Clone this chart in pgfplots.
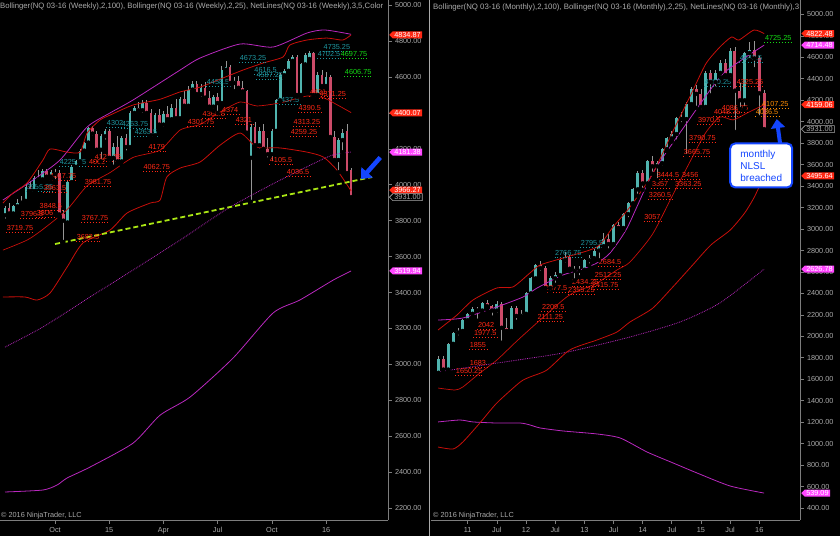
\documentclass[border=0pt]{standalone}
\usepackage{fontspec}
\setmainfont{Liberation Sans}
\setsansfont{Liberation Sans}
\usepackage{graphicx}
\usepackage{pgfplots}
\pgfplotsset{compat=1.18}
\usepackage{pgfplotstable}
\usetikzlibrary{arrows.meta,shapes.symbols}

\definecolor{axgray}{RGB}{125,125,125}
\definecolor{labgray}{RGB}{170,170,170}
\definecolor{bbpurple}{RGB}{185,40,190}
\definecolor{bbred}{RGB}{200,15,10}
\definecolor{upc}{RGB}{80,180,175}
\definecolor{dnc}{RGB}{205,75,105}
\definecolor{wickc}{RGB}{150,150,150}
\definecolor{nlred}{RGB}{255,40,20}
\definecolor{nlteal}{RGB}{30,150,160}
\definecolor{nlgreen}{RGB}{20,220,20}
\definecolor{nlorange}{RGB}{255,140,0}
\definecolor{tagred}{RGB}{255,40,20}
\definecolor{tagmag}{RGB}{255,70,255}
\definecolor{trend}{RGB}{170,230,20}
\definecolor{arrowblue}{RGB}{20,70,255}

\newcommand{\sm}{\fontsize{7.3}{8.5}\selectfont}

\tikzset{
  nl/.style={font=\sm, text=#1, inner xsep=0.4pt, inner ysep=1.4pt,
    append after command={(\tikzlastnode.south west) edge[draw=#1, dotted, line width=0.9pt] (\tikzlastnode.south east)}},
  tag/.style={signal, signal to=west, signal pointer angle=90, fill=#1, text=white,
    font=\sm, inner xsep=1.5pt, inner ysep=0.9pt, anchor=west, xshift=1pt},
  tagblk/.style={signal, signal to=west, signal pointer angle=90, fill=black, draw=labgray, line width=0.6pt, text=labgray,
    font=\sm, inner xsep=1.5pt, inner ysep=0.9pt, anchor=west, xshift=1pt}
}

\pgfplotsset{
  nqaxis/.style={
    scale only axis, height=520pt, anchor=south west, clip=false,
    axis x line*=bottom, axis y line*=right,
    xtick pos=left, ytick pos=right, yticklabel pos=right,
    axis line style={draw=axgray, line width=0.7pt},
    every tick/.style={draw=axgray, line width=0.7pt},
    tick align=outside, major tick length=3.5pt,
    ticklabel style={font=\sm, text=labgray},
    yticklabel style={/pgf/number format/.cd, fixed, fixed zerofill, precision=2, 1000 sep={}},
    /pgf/number format/assume math mode=true,
  },
  wick/.style={only marks, mark=none, forget plot, error bars/.cd, y dir=plus, y explicit, error mark=none,
    error bar style={draw=wickc, line width=0.7pt}},
  body/.style 2 args={only marks, mark=none, forget plot, error bars/.cd, y dir=plus, y explicit, error mark=none,
    error bar style={draw=#1, line width=#2}},
}

% ---------- weekly candles ----------
\pgfplotstableread{
x o h l c
-12 3830 3880 3800 3870
-10 3840 3890 3820 3880
-9 3880 3920 3860 3900
-8 3900 3940 3880 3910
-7 3910 4000 3900 3990
-5 3965 4050 3950 4040
-3 4030 4090 4020 4075
-1 4045 4085 4030 4070
3 3790 4025 3780 4015
4 4015 4110 4005 4100
5 4100 4140 4080 4130
6 4130 4200 4120 4190
7 4190 4240 4170 4235
8 4235 4320 4225 4315
11 4195 4280 4130 4270
12 4270 4310 4240 4300
14 4150 4230 4100 4210
16 4130 4270 4110 4260
18 4210 4410 4200 4400
19 4400 4440 4380 4430
21 4415 4470 4390 4455
24 4275 4400 4265 4390
26 4335 4410 4310 4395
28 4365 4450 4355 4425
30 4370 4490 4360 4475
32 4440 4550 4430 4530
33 4530 4580 4510 4560
35 4505 4560 4480 4540
38 4435 4500 4410 4490
40 4455 4660 4445 4640
41 4640 4690 4620 4655
43 4567 4600 4520 4580
47 4150 4340 3905 4320
49 4220 4320 4190 4300
52 4170 4310 4120 4300
53 4300 4480 4290 4470
54 4470 4620 4460 4610
55 4610 4645 4590 4635
56 4635 4700 4620 4690
57 4690 4720 4670 4710
59 4500 4680 4490 4670
60 4670 4735 4650 4720
61 4700 4745 4690 4735
63 4500 4630 4490 4610
65 4550 4630 4540 4600
68 4138 4260 4070 4249
69 4249 4310 4180 4290
}\wup
\pgfplotstableread{
x o h l c
-11 3870 3900 3830 3840
-6 3990 4020 3950 3965
-4 4040 4080 4010 4030
-2 4075 4090 4030 4045
0 4070 4090 4020 4060
1 4065 4080 3820 3835
2 3835 3860 3681 3800
9 4315 4330 4260 4285
10 4285 4300 4180 4195
13 4300 4310 4140 4150
15 4210 4270 4120 4130
17 4260 4280 4180 4210
20 4430 4460 4400 4415
22 4455 4470 4380 4400
23 4400 4420 4260 4275
25 4390 4420 4320 4335
27 4395 4440 4350 4365
29 4425 4480 4350 4370
31 4475 4520 4420 4440
34 4560 4580 4490 4505
36 4540 4570 4470 4485
37 4485 4520 4420 4435
39 4490 4510 4400 4455
42 4655 4665 4560 4567
44 4580 4605 4530 4540
45 4540 4580 4510 4520
46 4520 4530 4280 4290
48 4320 4350 4200 4220
50 4300 4340 4180 4200
51 4200 4260 4140 4170
58 4710 4720 4490 4500
62 4735 4740 4490 4500
64 4610 4640 4540 4550
66 4600 4610 4250 4266
67 4266 4300 4120 4138
70 4300 4340 4050 4065
71 4082 4095 3910 3931
}\wdn

% ---------- monthly candles ----------
\pgfplotstableread{
x o h l c
-6 1660 1820 1630 1790
-4 1690 1940 1680 1930
-3 1930 2040 1920 2035
-2 2035 2080 1990 2050
-1 2050 2160 2040 2150
0 2150 2215 2130 2210
1 2210 2270 2185 2255
3 2240 2320 2220 2310
6 2240 2330 2200 2300
9 2050 2280 2030 2260
11 2190 2250 2160 2210
12 2210 2410 2200 2400
13 2400 2550 2390 2540
14 2540 2675 2520 2665
17 2450 2560 2410 2540
18 2540 2600 2480 2570
19 2570 2720 2560 2710
20 2710 2790 2670 2740
23 2610 2660 2550 2620
24 2620 2720 2610 2710
25 2710 2760 2660 2730
26 2730 2810 2700 2800
27 2800 2850 2710 2840
28 2840 2960 2830 2905
30 2860 3045 2850 3035
32 3010 3150 2990 3140
33 3140 3250 3090 3240
34 3240 3380 3230 3370
35 3370 3545 3310 3525
37 3425 3645 3395 3635
39 3585 3635 3455 3615
40 3615 3755 3575 3745
41 3745 3855 3725 3845
42 3845 3915 3815 3885
43 3885 4045 3815 4035
45 4025 4185 3681 4165
46 4165 4320 4145 4305
49 4138 4475 4130 4455
51 4370 4485 4310 4455
52 4455 4575 4415 4545
54 4435 4690 4395 4655
57 4200 4650 4125 4640
58 4640 4745 4575 4670
}\mup
\pgfplotstableread{
x o h l c
-5 1790 1820 1670 1690
2 2255 2270 2145 2240
4 2310 2340 2250 2280
5 2280 2290 2175 2240
7 2300 2320 1940 2080
8 2080 2175 2020 2050
10 2260 2280 2135 2190
15 2665 2700 2590 2635
16 2635 2655 2420 2450
21 2740 2760 2610 2630
22 2630 2660 2520 2610
29 2905 2950 2800 2860
31 3035 3070 2985 3010
36 3525 3555 3365 3425
38 3635 3685 3515 3585
44 4035 4095 3975 4025
47 4305 4340 4130 4260
48 4260 4310 4100 4138
50 4455 4485 4245 4370
53 4545 4585 4415 4435
55 4655 4700 3905 4290
56 4290 4360 4120 4200
59 4670 4750 4490 4590
60 4590 4610 4040 4266
61 4266 4300 3910 3931
}\mdn

\begin{document}
\begin{tikzpicture}
\fill[black] (0pt,0pt) rectangle (840pt,536pt);

% ================= WEEKLY =================
\begin{axis}[nqaxis, at={(0pt,16pt)}, width=388pt,
  xmin=-13.2, xmax=79.85, ymin=2133, ymax=5029,
  ytick={2200,2400,...,5000},
  xtick={0,13,26,39,52,65}, xticklabels={Oct,15,Apr,Jul,Oct,16}]

\addplot[wick] table[x=x, y=l, y error plus expr=\thisrow{h}-\thisrow{l}] {\wup};
\addplot[wick] table[x=x, y=l, y error plus expr=\thisrow{h}-\thisrow{l}] {\wdn};
\addplot[body={upc}{2.6pt}] table[x=x, y=o, y error plus expr=\thisrow{c}-\thisrow{o}] {\wup};
\addplot[body={dnc}{2.6pt}] table[x=x, y=c, y error plus expr=\thisrow{o}-\thisrow{c}] {\wdn};

% Bollinger 100 (purple)
\addplot[bbpurple, line width=0.8pt, smooth, tension=0.4] coordinates {(-12.5,3915) (-5.3,4026) (1.2,4138) (7.7,4322) (13.2,4400) (18.7,4472) (30,4639) (34.8,4706) (44.4,4784) (52.3,4767) (60.4,4845) (64.7,4862) (71,4838)};
\addplot[bbpurple, line width=0.8pt, densely dotted, smooth, tension=0.4] coordinates {(-12,3096) (-2.9,3208) (8.4,3375) (18.7,3525) (30,3692) (42,3876) (54,4026) (65.9,4160) (71,4182)};
\addplot[bbpurple, line width=0.8pt, smooth, tension=0.4] coordinates {(-12,2289) (-2.9,2300) (0.5,2328) (2.9,2367) (8.4,2428) (18.7,2561) (25.2,2717) (32.4,2818) (42.7,3035) (52.3,3286) (58.7,3358) (66.7,3469) (71,3520)};
% Bollinger 25 (red)
\addplot[bbred, line width=0.8pt, smooth, tension=0.4] coordinates {(-12.5,3898) (-10.1,3954) (-6.7,4010) (-2.9,4138) (-1.2,4199) (2.9,4182) (6,4182) (7.7,4288) (10.8,4361) (13.2,4388) (18.7,4444) (25,4475) (30,4517) (34.8,4544) (40.3,4595) (45.1,4639) (49.9,4678) (54.7,4712) (56.3,4778) (60.4,4806) (65.2,4817) (69,4806) (71,4835)};
\addplot[bbred, line width=0.7pt, smooth, tension=0.4] coordinates {(-12.5,3636) (-6.7,3692) (-2.9,3752) (2.9,3862) (7.7,3994) (13.2,4068) (18.7,4152) (25.2,4193) (30,4305) (34.8,4336) (39.6,4405) (44.4,4461) (48.4,4439) (54,4456) (60.4,4494) (64.3,4485) (67.6,4446) (71,4402)};
\addplot[bbred, line width=0.8pt, smooth, tension=0.4] coordinates {(-12.5,3375) (-7.2,3375) (-4.3,3358) (-1.2,3397) (2.9,3542) (6.7,3676) (13.2,3748) (17.3,3843) (22.8,3898) (25.2,3915) (26.8,4043) (30,4093) (34.8,4127) (39.6,4221) (44.4,4288) (48.4,4210) (54,4205) (60.4,4182) (64.3,4155) (67.6,4082) (71,3966)};

% trend line
\addplot[trend, line width=1.8pt, dash pattern=on 5pt off 3pt] coordinates {(0,3670) (76,4043)};

% NetLines labels
\node[nl=nlred] at (axis cs:-8.4,3759) {3719.75};
\node[nl=nlred] at (axis cs:-5.5,3837) {3796.5};
\node[nl=nlred] at (axis cs:-2.4,3843) {3806};
\node[nl=nlred] at (axis cs:-1,3882) {3848.5};
\node[nl=nlteal] at (axis cs:-3.6,3987) {3955.25};
\node[nl=nlred] at (axis cs:0,3981) {3963.5};
\node[nl=nlred] at (axis cs:1.9,4049) {4017.75};
\node[nl=nlteal] at (axis cs:4.3,4127) {4225.25};
\node[nl=nlred] at (axis cs:9.6,3815) {3767.75};
\node[nl=nlred] at (axis cs:7.9,3709) {3683.5};
\node[nl=nlred] at (axis cs:10.3,4015) {3981.75};
\node[nl=nlred] at (axis cs:10.1,4127) {4062};
\node[nl=nlred] at (axis cs:12.7,4155) {4121.75};
\node[nl=nlteal] at (axis cs:14.4,4344) {4302};
\node[nl=nlteal] at (axis cs:19.2,4338) {4263.75};
\node[nl=nlteal] at (axis cs:21.8,4294) {4263.5};
\node[nl=nlred] at (axis cs:24.4,4210) {4179};
\node[nl=nlred] at (axis cs:24.4,4099) {4062.75};
\node[nl=nlred] at (axis cs:35,4349) {4301.75};
\node[nl=nlred] at (axis cs:38.1,4394) {4368.5};
\node[nl=nlred] at (axis cs:42,4416) {4374};
\node[nl=nlteal] at (axis cs:39.1,4572) {4458.5};
\node[nl=nlred] at (axis cs:45.3,4361) {4321};
\node[nl=nlteal] at (axis cs:47.5,4706) {4673.25};
\node[nl=nlteal] at (axis cs:50.5,4639) {4616.5};
\node[nl=nlteal] at (axis cs:51.5,4611) {4587.25};
\node[nl=nlteal] at (axis cs:55.9,4472) {4437.5};
\node[nl=nlred] at (axis cs:61.1,4427) {4390.5};
\node[nl=nlred] at (axis cs:63.1,4517) {4421};
\node[nl=nlred] at (axis cs:66.6,4506) {4371.25};
\node[nl=nlred] at (axis cs:60.4,4349) {4313.25};
\node[nl=nlred] at (axis cs:59.7,4294) {4259.25};
\node[nl=nlred] at (axis cs:54.2,4138) {4105.5};
\node[nl=nlred] at (axis cs:58.3,4071) {4036.5};
\node[nl=nlteal] at (axis cs:65.7,4728) {4702.5};
\node[nl=nlteal] at (axis cs:67.6,4767) {4735.25};
\node[nl=nlgreen] at (axis cs:71.7,4728) {4697.75};
\node[nl=nlgreen] at (axis cs:72.7,4628) {4606.75};

% blue arrow
\draw[arrowblue, line width=4.5pt, -{Triangle[length=9pt, width=15pt]}] (axis cs:78,4152) -- (axis cs:73.4,4032);

% price tags
\node[tag=tagred] at (axis cs:79.85,4834.87) {4834.87};
\node[tag=tagred] at (axis cs:79.85,4400.07) {4400.07};
\node[tag=tagmag] at (axis cs:79.85,4181.38) {4181.38};
\node[tag=tagred] at (axis cs:79.85,3970) {3966.27};
\node[tagblk] at (axis cs:79.85,3931) {3931.00};
\node[tag=tagmag] at (axis cs:79.85,3519.94) {3519.94};
\end{axis}

% ================= MONTHLY =================
\begin{axis}[nqaxis, at={(431pt,16pt)}, width=369pt,
  xmin=-7.55, xmax=68.38, ymin=288, ymax=5135,
  ytick={400,600,...,5000},
  xtick={0,6,...,60}, xticklabels={11,Jul,12,Jul,13,Jul,14,Jul,15,Jul,16}]

\addplot[wick] table[x=x, y=l, y error plus expr=\thisrow{h}-\thisrow{l}] {\mup};
\addplot[wick] table[x=x, y=l, y error plus expr=\thisrow{h}-\thisrow{l}] {\mdn};
\addplot[body={upc}{3pt}] table[x=x, y=o, y error plus expr=\thisrow{c}-\thisrow{o}] {\mup};
\addplot[body={dnc}{3pt}] table[x=x, y=c, y error plus expr=\thisrow{o}-\thisrow{c}] {\mdn};

% Bollinger 100 (purple)
\addplot[bbpurple, line width=0.8pt, smooth, tension=0.4] coordinates {(-6.1,2152) (-1,2171) (6,2274) (11.4,2367) (14.3,2451) (19.6,2572) (23.1,2618) (26.6,2684) (29.3,2777) (32.8,3010) (38.1,3522) (45.1,3989) (51.9,4417) (56,4565) (61,4714)};
\addplot[bbpurple, line width=0.8pt, densely dotted, smooth, tension=0.4] coordinates {(-6.1,1668) (6,1751) (19.6,1845) (33.4,1994) (43.7,2134) (51.9,2311) (61,2627)};
\addplot[bbpurple, line width=0.8pt, smooth, tension=0.4] coordinates {(-6.1,1202) (-1.6,1220) (1.1,1202) (6,1192) (10.8,1192) (12.8,1174) (14.9,1146) (19.6,1118) (26.6,1090) (31.4,1052) (36.9,922) (42.3,819) (47.2,726) (54,605) (61,539)};
% Bollinger 25 (red)
\addplot[bbred, line width=0.8pt, smooth, tension=0.4] coordinates {(-6.1,2059) (-2.2,2199) (1.1,2339) (6,2451) (9.3,2460) (12.8,2590) (14.9,2665) (19.6,2730) (26.6,2833) (29.9,3019) (33.4,3206) (38,3510) (42,3890) (46,4260) (49,4540) (51.9,4697) (54.3,4790) (55.8,4762) (58.9,4855) (61,4822)};
\addplot[bbred, line width=0.7pt, smooth, tension=0.4] coordinates {(-6.1,1518) (-2.6,1500) (-1,1528) (2.5,1658) (6,1779) (10.2,1960) (14.9,2152) (19.6,2339) (21.7,2404) (26.6,2497) (30.7,2618) (33.4,2693) (38,2950) (42,3300) (46,3650) (49,3900) (51.9,4045) (54.6,4017) (57.5,4082) (61,4159)};
\addplot[bbred, line width=0.8pt, smooth, tension=0.4] coordinates {(-6.1,968) (-3,950) (-1,1015) (2.5,1192) (6,1379) (10.8,1574) (12.8,1621) (16.3,1686) (21,1873) (26.6,1966) (30.7,2040) (33.4,2134) (38,2260) (42,2450) (46,2650) (50,2850) (54,2990) (57,3150) (59,3300) (61,3496)};

% NetLines labels
\node[nl=nlgreen] at (axis cs:63.9,4781) {4725.25};
\node[nl=nlteal] at (axis cs:58.3,4594) {4542.5};
\node[nl=nlteal] at (axis cs:51.5,4371) {4300.25};
\node[nl=nlred] at (axis cs:58.1,4371) {4325.25};
\node[nl=nlred] at (axis cs:55,4128) {4086.75};
\node[nl=nlred] at (axis cs:53.4,4091) {4048.75};
\node[nl=nlred] at (axis cs:49.7,4017) {3970.5};
\node[nl=nlorange] at (axis cs:63.3,4166) {4107.25};
\node[nl=nlorange] at (axis cs:61.6,4091) {4036.5};
\node[nl=nlred] at (axis cs:48.3,3849) {3790.75};
\node[nl=nlred] at (axis cs:47.2,3718) {3665.75};
\node[nl=nlred] at (axis cs:41.2,3504) {3444.5};
\node[nl=nlred] at (axis cs:45.8,3504) {3456};
\node[nl=nlred] at (axis cs:39.6,3420) {3357};
\node[nl=nlred] at (axis cs:45.4,3420) {3363.25};
\node[nl=nlred] at (axis cs:39.6,3317) {3260.5};
\node[nl=nlred] at (axis cs:38,3112) {3057};
\node[nl=nlteal] at (axis cs:25.6,2870) {2795.5};
\node[nl=nlteal] at (axis cs:20.7,2777) {2766.75};
\node[nl=nlred] at (axis cs:29.3,2693) {2684.5};
\node[nl=nlred] at (axis cs:28.9,2572) {2512.25};
\node[nl=nlred] at (axis cs:24.2,2506) {2434.25};
\node[nl=nlred] at (axis cs:28.3,2479) {2415.75};
\node[nl=nlred] at (axis cs:18.2,2451) {2377.5};
\node[nl=nlred] at (axis cs:23.4,2432) {2355.25};
\node[nl=nlred] at (axis cs:17.6,2273) {2209.5};
\node[nl=nlred] at (axis cs:17,2180) {2111.25};
\node[nl=nlred] at (axis cs:3.8,2106) {2042};
\node[nl=nlred] at (axis cs:3.6,2031) {1977.5};
\node[nl=nlred] at (axis cs:2.1,1919) {1855};
\node[nl=nlred] at (axis cs:2.1,1751) {1683};
\node[nl=nlred] at (axis cs:0.3,1677) {1650.25};

% arrow and note
\draw[arrowblue, line width=4pt, -{Triangle[length=9pt, width=14pt]}] (axis cs:64.3,3790) -- (axis cs:63.6,4025);
\node[draw=arrowblue, line width=2pt, fill=white, rounded corners=5pt, text=arrowblue, align=left,
      font=\fontsize{10}{12}\selectfont, inner sep=3pt, minimum width=62pt, minimum height=44pt]
      at (axis cs:60.4,3593) {monthly\\NLSL\\breached};

% price tags
\node[tag=tagred] at (axis cs:68.38,4822.48) {4822.48};
\node[tag=tagmag] at (axis cs:68.38,4714.48) {4714.48};
\node[tag=tagred] at (axis cs:68.38,4159.06) {4159.06};
\node[tagblk] at (axis cs:68.38,3931) {3931.00};
\node[tag=tagred] at (axis cs:68.38,3495.64) {3495.64};
\node[tag=tagmag] at (axis cs:68.38,2626.78) {2626.78};
\node[tag=tagmag] at (axis cs:68.38,539.09) {539.09};
\end{axis}

% panel separator, headers, copyright
\draw[labgray, line width=1pt] (429pt,0pt) -- (429pt,536pt);
\node[anchor=west, inner sep=0pt, text=labgray] at (0pt,529pt)
  {\resizebox{383pt}{!}{\sm Bollinger(NQ 03-16 (Weekly),2,100), Bollinger(NQ 03-16 (Weekly),2,25), NetLines(NQ 03-16 (Weekly),3,5,Color}};
\node[anchor=west, inner sep=0pt, text=labgray] at (433pt,529pt)
  {\resizebox{366pt}{!}{\sm Bollinger(NQ 03-16 (Monthly),2,100), Bollinger(NQ 03-16 (Monthly),2,25), NetLines(NQ 03-16 (Monthly),3}};
\node[anchor=west, inner sep=0pt, text=labgray, font=\sm] at (1pt,20pt) {© 2016 NinjaTrader, LLC};
\node[anchor=west, inner sep=0pt, text=labgray, font=\sm] at (433pt,20pt) {© 2016 NinjaTrader, LLC};

\pgfresetboundingbox
\useasboundingbox (0pt,0pt) rectangle (840pt,536pt);
\end{tikzpicture}
\end{document}
